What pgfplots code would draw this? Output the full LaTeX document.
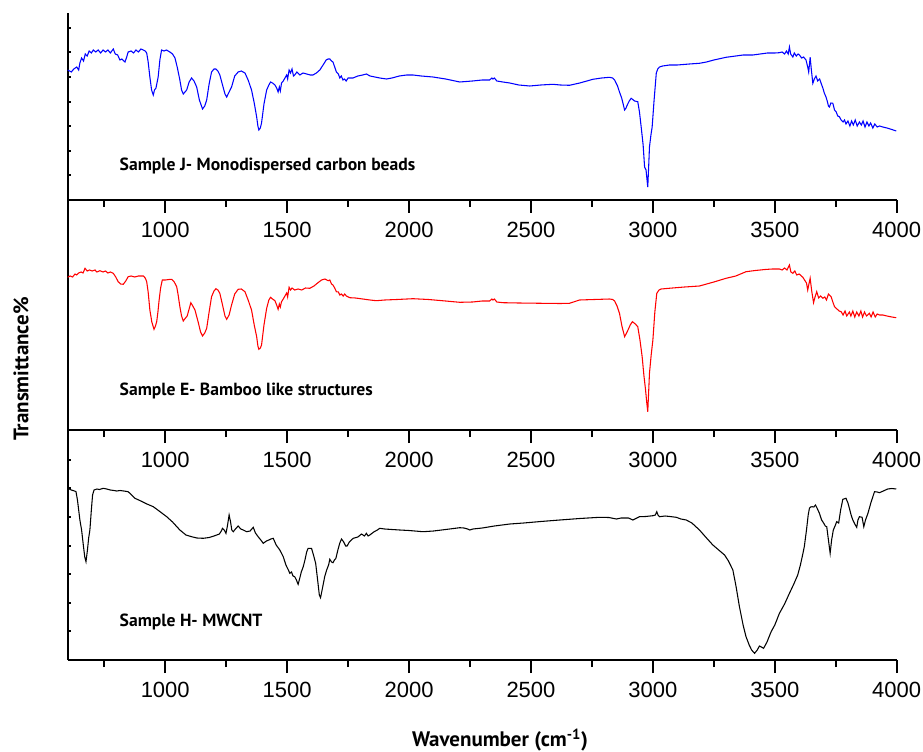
\documentclass[border=0pt]{standalone}
\usepackage{pgfplots}
\pgfplotsset{compat=1.18}
\usepackage{fontspec}
\setmainfont{PT Sans}
\newfontfamily\arialf{Liberation Sans}
\newfontfamily\lblf{PT Sans}
\begin{document}
\begin{tikzpicture}
\useasboundingbox (0pt,0pt) rectangle (692.25pt,563.25pt);
\pgfplotsset{
  panel/.style={
    scale only axis,
    width=621.75pt,
    xmin=600, xmax=4000,
    axis x line=bottom, axis y line=left,
    axis line style={-, line width=1.5pt},
    xtick={1000,1500,2000,2500,3000,3500,4000},
    minor xtick={750,1250,1750,2250,2750,3250,3750},
    tick align=outside,
    major tick length=9.75pt, minor tick length=5.25pt,
    every tick/.style={black, line width=1.5pt},
    xticklabel style={font=\arialf\fontsize{16.5}{18}\selectfont, yshift=-3pt},
    /pgf/number format/assume math mode=true,
    /pgf/number format/1000 sep={},
    ytick=\empty,
    clip=false,
  },
}
% ---------- Panel 1: Sample J ----------
\begin{axis}[panel, at={(50.775pt,413.25pt)}, anchor=south west, height=140.25pt,
  ymin=0, ymax=187,
  extra y ticks={24.6,49.2,73.8,98.4,123,147.6,172.2},
  extra y tick labels={},
  extra y tick style={tick align=inside, major tick length=2.25pt},
]
\addplot[blue, line width=0.8pt] coordinates {
(600,130)(615,128)(625,131)(637,133)(645,130)(650,137)(657,142)(665,139)(672,146)(680,144)(688,149)(697,147)(705,150)(715,148)(725,150)(735,147)(745,150)(755,148)(765,150)(775,147)(787,151)(795,146)(805,145)(814,140)(822,141)(835,138)(842,143)(848,148)(860,149)(870,147)(880,150)(890,148)(900,151)(910,150)(918,149)(924,147)
(930,138)(937,123)(944,110)(951,105)(956,110)(962,112)(967,118)(971,123)(978,140)(985,150)(995,149)(1005,150)(1019,148)(1030,146)(1040,142)(1050,132)(1060,120)(1067,110)(1074,106)(1081,108)(1088,110)(1098,118)(1108,122)(1118,119)(1129,113)(1140,100)(1153,91)(1162,94)(1170,100)(1180,116)(1190,128)(1200,131)(1208,131)(1216,129)(1224,125)(1235,115)(1245,106)(1252,103)(1260,107)(1272,113)(1285,124)(1299,128)(1312,129)(1327,127)(1340,120)(1354,110)(1365,97)(1375,83)(1380,74)(1384,70)(1390,72)(1395,77)(1405,96)(1416,110)(1425,115)(1432,118)(1440,117)(1450,115)(1457,112)(1463,108)(1468,113)(1472,109)(1477,117)(1484,119)(1491,122)(1498,125)(1502,121)(1508,130)(1514,127)(1520,131)(1526,124)(1531,125)(1540,128)(1552,125)(1565,127)(1580,126)(1595,125)(1606,125)(1620,127)(1634,130)(1650,136)(1660,140)(1668,141)(1675,141)(1682,139)(1688,138)(1695,133)(1702,128)(1710,126)(1716,122)(1722,124)(1729,120)(1735,121)(1742,119)(1750,122)(1770,122)(1790,124)(1810,125)(1825,126)(1840,124)(1860,123)(1880,122)(1907,121)(1930,122)(1960,124)(1990,125)(2016,125)(2050,124)(2098,123)(2150,121)(2208,118)(2260,119)(2300,120)(2330,120)(2340,122)(2344,121)(2350,122)(2360,119)(2385,118)(2413,117)(2450,115)(2495,114)(2540,115)(2590,115.7)(2620,115)(2658,114.7)(2700,117)(2754,120.7)(2790,122)(2822,122.7)(2835,122)(2843,120)(2855,114)(2863,108)(2872,102)(2880,94)(2884,90)(2890,92)(2893,94)(2903,99)(2911,101.7)(2925,99)(2938,98.3)(2945,88)(2952,73)(2960,55)(2966,33)(2972,30)(2976,20)(2979,13)(2983,35)(2986,53)(2992,65)(2997,73)(3005,100)(3014,127)(3020,131)(3027,133)(3040,134)(3068,135)(3100,135)(3150,136)(3191,136.7)(3220,138)(3250,140)(3300,142.7)(3340,144)(3370,145)(3410,145)(3440,146)(3470,147)(3500,147)(3519,147.3)(3530,148)(3540,146)(3548,149)(3555,146)(3560,153)(3565,146)(3574,143)(3580,147)(3588,144)(3596,146)(3601,145)(3610,142)(3618,143)(3628,140)(3635,133)(3639,128)(3645,142.7)(3650,130)(3656,116.7)(3662,121)(3669,124)(3676,119)(3684,121)(3690,116.7)(3697,112)(3703,107)(3710,103)(3715,99)(3720,94)(3724,93)(3730,97)(3738,96.7)(3745,90)(3752,88)(3758,84)(3765,83.3)(3772,80)(3780,78)(3786,80)(3792,76)(3800,79)(3808,74)(3815,79)(3822,75)(3830,80)(3838,74)(3847,78)(3855,75)(3862,79)(3870,73)(3878,78)(3886,74)(3893,77)(3902,72)(3910,76)(3920,73)(3930,74)(3943,73)(3960,72)(3980,70.5)(3998,69)
};
\end{axis}
% ---------- Panel 2: Sample E ----------
\begin{axis}[panel, at={(50.775pt,240.75pt)}, anchor=south west, height=172.5pt,
  ymin=0, ymax=230,
]
\addplot[red, line width=0.8pt] coordinates {
(600,152.7)(610,154)(620,153)(630,156)(637,155)(645,157)(655,158)(663,157)(671,161.7)(680,159)(690,160)(700,159)(712,160)(720,158)(732,159.3)(745,158)(755,159)(765,157)(775,158)(787,156.7)(797,153)(807,148.3)(817,146)(828,145.7)(838,149)(848,153.3)(860,154)(875,153)(890,154)(910,154)(918,152)(924,148.3)(930,138)(937,120)(945,108)(954,100.7)(960,104)(965,108.3)(970,118)(975,130)(981,142)(988,150)(1000,150)(1015,150.5)(1026,150.7)(1037,148)(1047,143.3)(1053,135)(1060,123.3)(1067,114)(1074,109)(1080,111)(1090,114)(1098,121)(1105,127.3)(1113,124)(1122,120)(1135,108)(1145,98)(1153,94)(1162,97)(1170,101.7)(1180,118)(1190,133.3)(1200,139)(1208,141.3)(1216,140)(1224,136.7)(1235,125)(1245,114)(1252,110.7)(1262,115)(1272,125)(1285,136)(1299,140.7)(1312,141)(1327,138.3)(1340,130)(1354,120)(1365,105)(1375,93.3)(1380,84)(1384,80.7)(1390,82)(1395,85)(1405,105)(1416,121.7)(1425,130)(1432,132.7)(1440,131)(1450,129.3)(1457,125)(1463,120.7)(1468,126)(1472,123)(1477,128.3)(1484,131)(1491,134)(1498,137)(1502,133)(1508,142.7)(1514,140)(1520,142)(1531,140)(1545,141)(1560,140)(1575,142)(1593,141.7)(1610,144)(1625,147)(1641,150)(1655,151)(1668,149.3)(1675,150)(1682,146)(1688,145)(1695,142)(1702,138.3)(1710,138)(1716,135)(1722,136)(1730,134)(1736,136)(1743,134)(1757,132.3)(1780,132)(1810,131)(1840,130)(1866,129.3)(1900,130)(1950,130.5)(2016,131.3)(2080,130.5)(2150,129)(2208,127.7)(2260,128)(2300,129)(2330,129)(2340,131)(2344,130)(2350,131)(2360,128)(2385,127.3)(2450,127)(2549,126.7)(2620,126.5)(2658,126.7)(2699,130)(2760,130.5)(2822,131)(2835,130.5)(2843,129)(2853,124)(2863,116.7)(2873,104)(2884,93.3)(2890,96)(2898,100)(2907,105)(2916,108.3)(2928,106)(2938,103.3)(2947,90)(2956,73.3)(2963,55)(2970,40)(2975,27)(2979,18.3)(2983,40)(2986,56.7)(2993,75)(3000,90)(3008,118)(3016,136.7)(3025,140)(3034,141)(3080,142)(3130,143)(3191,144)(3250,148)(3300,151.7)(3340,154)(3382,158.3)(3420,159.5)(3460,160.5)(3490,161)(3519,161)(3530,160)(3540,162)(3550,160)(3560,165)(3566,158)(3574,156.7)(3582,159)(3590,155)(3600,156)(3615,152.7)(3622,150)(3630,147)(3635,140)(3640,146)(3645,151.7)(3652,138)(3659,127.3)(3665,133)(3672,138.3)(3680,132)(3688,134)(3697,131.7)(3705,133)(3712,130)(3720,136)(3731,133.3)(3738,128)(3745,123.3)(3755,121)(3764,119)(3772,118.3)(3780,115)(3788,119)(3795,114)(3806,118)(3812,114)(3820,119)(3828,113)(3836,118)(3845,114)(3853,119)(3860,113)(3868,118)(3876,114)(3888,116.7)(3895,113)(3903,118)(3912,113)(3920,116)(3930,115)(3943,115)(3960,114)(3980,113)(3998,112.3)
};
\end{axis}
% ---------- Panel 3: Sample H ----------
\begin{axis}[panel, at={(50.775pt,68.25pt)}, anchor=south west, height=172.5pt,
  ymin=0, ymax=230,
  extra y ticks={28.6,57.2,85.8,114.4,143,171.6,200.2},
  extra y tick labels={},
  extra y tick style={tick align=inside, major tick length=2.25pt},
]
\addplot[black, line width=0.8pt] coordinates {
(600,171.7)(615,170)(628,169)(634,168.3)(640,160)(645,150)(650,140)(657,130)(664,115)(670,103)(675,98.3)(681,110)(686,122)(691,130)(697,150)(702,165)(708,170)(720,171)(730,170.5)(746,171.7)(760,171)(775,170)(790,169.5)(801,169)(815,169.5)(830,169)(848,168.3)(862,165)(876,161.7)(900,159)(925,156)(951,153.3)(975,149)(1006,143.3)(1030,138)(1060,130)(1085,125)(1108,123.3)(1130,122)(1156,121.7)(1180,122.5)(1200,124)(1211,125)(1222,126)(1230,129)(1235,131.7)(1242,130)(1249,126.7)(1255,134)(1262,145)(1268,138)(1273,130)(1279,128.3)(1288,131)(1299,134)(1310,131)(1320,130)(1334,128.3)(1348,129)(1361,132.7)(1370,127)(1381,123.3)(1392,120)(1402,116.7)(1415,119)(1425,120)(1433,121)(1443,121.7)(1455,115)(1470,110)(1484,103.3)(1495,95)(1505,90)(1511,86.7)(1518,88)(1524,84)(1531,83.3)(1538,80)(1545,75.7)(1552,82)(1558,88)(1566,93.3)(1573,100)(1580,108)(1586,111.7)(1600,111.7)(1608,105)(1617,96.7)(1625,80)(1632,65)(1637,62.3)(1645,72)(1654,83.3)(1662,90)(1670,95)(1675,100.7)(1682,98)(1688,97.3)(1694,100)(1700,101.7)(1708,110)(1716,117)(1723,121)(1732,118)(1740,114)(1746,114)(1755,118)(1771,121.7)(1790,123)(1805,126)(1817,124)(1825,126.7)(1832,124)(1839,125)(1855,128)(1870,130)(1880,131.7)(1900,131)(1930,130.5)(1962,130)(2000,129.5)(2057,128.3)(2100,129)(2150,130.5)(2208,132.3)(2225,132)(2240,131)(2249,130)(2262,131)(2300,132)(2350,134)(2413,136)(2470,137)(2540,138.5)(2618,140)(2700,141.5)(2781,142.7)(2820,142.5)(2836,141.7)(2850,141)(2870,142)(2900,142)(2918,140)(2930,141.5)(2945,143.3)(2970,143.5)(3000,144.3)(3010,145)(3016,148.3)(3021,145)(3027,143.3)(3050,144)(3070,143.5)(3096,142.7)(3115,141)(3137,140)(3160,137)(3191,130)(3220,122)(3246,115)(3270,110)(3294,105)(3310,99)(3328,90)(3340,75)(3355,53.3)(3370,35)(3382,23.3)(3395,15)(3405,10)(3417,6.7)(3428,10)(3437,14)(3445,13)(3454,11.7)(3468,18)(3485,28.3)(3500,35)(3519,46.7)(3540,56)(3560,66.7)(3578,76)(3594,85)(3605,95)(3614,105)(3621,113.3)(3630,130)(3637,145)(3642,151.7)(3647,153)(3653,153.3)(3660,153)(3667,155)(3675,151)(3683,146.7)(3692,140)(3701,136.7)(3707,134)(3713,133.3)(3720,120)(3727,106.7)(3733,120)(3740,130)(3747,134)(3754,138.3)(3762,137)(3770,150)(3779,160.7)(3792,161.7)(3800,157)(3806,151.7)(3813,145)(3820,140)(3828,136)(3836,132.7)(3841,140)(3847,143.3)(3853,143)(3858,142.7)(3865,133.3)(3872,140)(3882,146.7)(3895,158)(3909,168.3)(3920,168)(3929,167.3)(3945,169)(3963,171)(3980,171.5)(3998,171)
};
\end{axis}
% ---------- Texts ----------
\node[anchor=west, font=\lblf\bfseries\fontsize{13.2}{15}\selectfont] at (86.25pt,438.75pt) {Sample J- Monodispersed carbon beads};
\node[anchor=west, font=\lblf\bfseries\fontsize{13.2}{15}\selectfont] at (86.25pt,270pt) {Sample E- Bamboo like structures};
\node[anchor=west, font=\lblf\bfseries\fontsize{13.2}{15}\selectfont] at (86.25pt,96.75pt) {Sample H- MWCNT};
\node[font=\lblf\bfseries\fontsize{15.75}{17}\selectfont] at (375pt,8.5pt) {Wavenumber (cm\textsuperscript{-1})};
\node[rotate=90, font=\lblf\bfseries\fontsize{15.75}{17}\selectfont] at (15.75pt,286.5pt) {Transmittance\%};
\end{tikzpicture}
\end{document}
